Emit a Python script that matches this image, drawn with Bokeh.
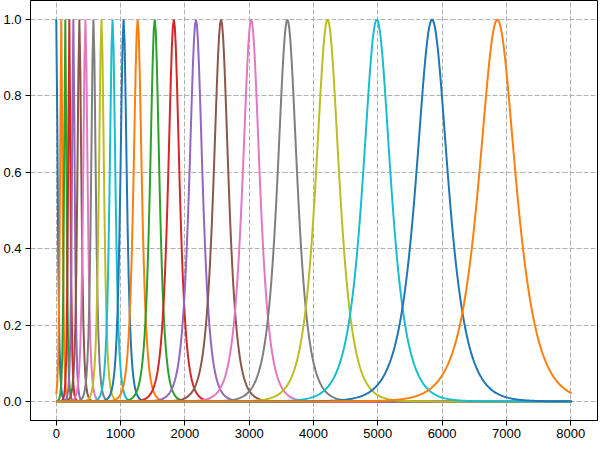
import numpy as np
from bokeh.plotting import figure
from bokeh.models import Range1d, FixedTicker, PrintfTickFormatter
from bokeh.palettes import Category10_10
from bokeh.embed import file_html
from bokeh.resources import INLINE

# frequency axis (Hz)
freq_step = 15.625
freq_max = 8015.625

# filter centre frequencies (Hz) and half widths at half maximum (Hz)
centers = [0.0, 78.125, 140.625, 203.125, 265.625, 359.375, 453.125, 578.125,
           703.125, 875.0, 1046.875, 1265.625, 1531.25, 1828.125, 2171.875,
           2562.5, 3031.25, 3593.75, 4218.75, 4984.375, 5843.75, 6859.375]
half_widths = [25, 22, 22, 22, 25, 36, 40, 42, 46, 52, 58, 75, 85, 103, 120,
               135, 156, 180, 214, 253, 291, 335]

x_ticks = [0, 1000, 2000, 3000, 4000, 5000, 6000, 7000, 8000]
y_ticks = [0.0, 0.2, 0.4, 0.6, 0.8, 1.0]

freqs = np.arange(0, freq_max + freq_step / 2, freq_step)

pad_x = 0.05 * freq_max
p = figure(width=598, height=440, output_backend="svg", toolbar_location=None,
           x_range=Range1d(-pad_x, freq_max + pad_x), y_range=Range1d(-0.05, 1.05),
           min_border_left=27, min_border_right=1, min_border_top=0, min_border_bottom=18)

p.background_fill_color = "white"
p.border_fill_color = "white"
p.outline_line_color = "black"
p.outline_line_alpha = 1
p.outline_line_width = 1

p.grid.grid_line_color = "#b0b0b0"
p.grid.grid_line_dash = "5 2"
p.grid.grid_line_width = 1
p.grid.grid_line_alpha = 1

p.xaxis.ticker = FixedTicker(ticks=x_ticks)
p.yaxis.ticker = FixedTicker(ticks=y_ticks)
p.yaxis.formatter = PrintfTickFormatter(format="%.1f")
for ax in (p.xaxis, p.yaxis):
    ax.major_tick_out = 5
    ax.major_tick_in = 0
    ax.minor_tick_out = 0
    ax.minor_tick_in = 0
    ax.axis_line_color = "black"
    ax.major_tick_line_color = "black"
    ax.major_label_text_font = "Liberation Sans"
    ax.major_label_text_font_size = "13px"
    ax.major_label_text_color = "black"
p.yaxis.major_label_standoff = 4
p.xaxis.major_label_standoff = 3

for i, (c, h) in enumerate(zip(centers, half_widths)):
    a = h / np.arccosh(2.0)
    resp = 1.0 / np.cosh((freqs - c) / a)
    p.line(freqs, resp, line_color=Category10_10[i % 10], line_width=2)

open("out.html", "w").write(file_html(p, INLINE))
